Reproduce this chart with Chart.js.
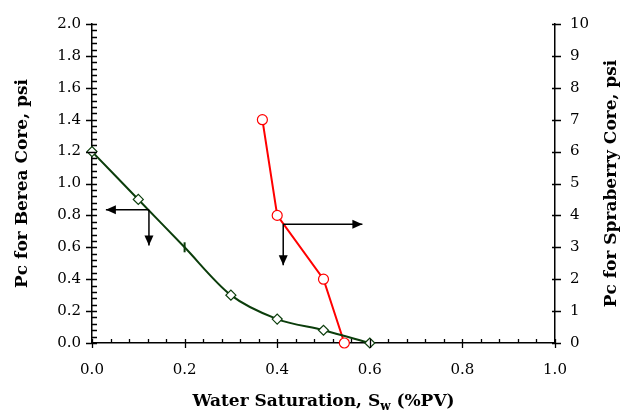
<!DOCTYPE html>
<html>
<head>
<meta charset="utf-8">
<script src="https://cdn.jsdelivr.net/npm/chart.js@4/dist/chart.umd.min.js"></script>
<style>
  html, body { margin: 0; padding: 0; background: #fff; }
  #wrap { width: 636px; height: 415px; }
</style>
</head>
<body>
<div id="wrap"><canvas id="chart"></canvas></div>
<script>
// Berea core (left axis)
const bereaSw = [0.0, 0.1, 0.2, 0.3, 0.4, 0.5, 0.6];
const bereaPc = [1.2, 0.9, 0.6, 0.3, 0.15, 0.08, 0.0];
// Spraberry core (right axis)
const spraSw = [0.368, 0.40, 0.50, 0.545];
const spraPc = [7.0, 4.0, 2.0, 0.0];
// arrow annotations, in x / left-axis units
const arrows = [
    { from: [0.123, 0.835], to: [0.030, 0.835] },
    { from: [0.123, 0.835], to: [0.123, 0.612] },
    { from: [0.413, 0.744], to: [0.584, 0.744] },
    { from: [0.413, 0.744], to: [0.413, 0.488] }
];

const serif = '"DejaVu Serif", serif';
const green = '#0b3d0b';

function arrowHead(ctx, x1, y1, x2, y2) {
    const a = Math.atan2(y2 - y1, x2 - x1);
    const len = 10, half = 4.5;
    ctx.beginPath();
    ctx.moveTo(x2, y2);
    ctx.lineTo(x2 - len * Math.cos(a) + half * Math.sin(a), y2 - len * Math.sin(a) - half * Math.cos(a));
    ctx.lineTo(x2 - len * Math.cos(a) - half * Math.sin(a), y2 - len * Math.sin(a) + half * Math.cos(a));
    ctx.closePath();
    ctx.fill();
}

const extras = {
    id: 'extras',
    afterDraw(chart) {
        const ctx = chart.ctx;
        const xs = chart.scales.x, yl = chart.scales.y, yr = chart.scales.y2;
        ctx.save();
        ctx.strokeStyle = '#000';
        ctx.fillStyle = '#000';
        ctx.lineWidth = 1.3;

        // tick marks
        ctx.beginPath();
        for (let i = 0; i <= 50; i++) {
            const v = i * 0.04;
            const y = Math.round(yl.getPixelForValue(v)) + 0.5;
            const major = i % 5 === 0;
            ctx.moveTo(yl.right - (major ? 6 : 0), y);
            ctx.lineTo(yl.right + 5, y);
        }
        for (let i = 0; i <= 25; i++) {
            const v = i * 0.04;
            const x = Math.round(xs.getPixelForValue(v)) + 0.5;
            const major = i % 5 === 0;
            ctx.moveTo(x, xs.top + (major ? 5 : 0));
            ctx.lineTo(x, xs.top - 4);
        }
        for (let i = 0; i <= 10; i++) {
            const y = Math.round(yr.getPixelForValue(i)) + 0.5;
            ctx.moveTo(yr.left - 3, y);
            ctx.lineTo(yr.left + 6, y);
        }
        ctx.stroke();

        // arrows
        ctx.lineWidth = 1.5;
        arrows.forEach(a => {
            const x1 = xs.getPixelForValue(a.from[0]), y1 = yl.getPixelForValue(a.from[1]);
            const x2 = xs.getPixelForValue(a.to[0]), y2 = yl.getPixelForValue(a.to[1]);
            ctx.beginPath();
            ctx.moveTo(x1, y1);
            ctx.lineTo(x2, y2);
            ctx.stroke();
            arrowHead(ctx, x1, y1, x2, y2);
        });

        // axis titles
        const cy = (chart.chartArea.top + chart.chartArea.bottom) / 2;
        ctx.font = 'bold 17px ' + serif;
        ctx.textAlign = 'center';
        ctx.textBaseline = 'middle';
        [[23, 'Pc for Berea Core, psi'], [612, 'Pc for Spraberry Core, psi']].forEach(t => {
            ctx.save();
            ctx.translate(t[0], cy);
            ctx.rotate(-Math.PI / 2);
            ctx.fillText(t[1], 0, 0);
            ctx.restore();
        });

        // x title with subscript
        const parts = [['Water Saturation, S', 17, 0], ['w', 12, 4], [' (%PV)', 17, 0]];
        let total = 0;
        parts.forEach(p => { ctx.font = 'bold ' + p[1] + 'px ' + serif; total += ctx.measureText(p[0]).width; });
        let x = (chart.chartArea.left + chart.chartArea.right) / 2 - total / 2;
        ctx.textAlign = 'left';
        ctx.textBaseline = 'alphabetic';
        parts.forEach(p => {
            ctx.font = 'bold ' + p[1] + 'px ' + serif;
            ctx.fillText(p[0], x, 406 + p[2]);
            x += ctx.measureText(p[0]).width;
        });
        ctx.restore();
    }
};

new Chart(document.getElementById('chart'), {
    type: 'line',
    data: {
        datasets: [
            {
                label: 'Berea',
                data: bereaSw.map((s, i) => ({ x: s, y: bereaPc[i] })),
                yAxisID: 'y',
                borderColor: green,
                borderWidth: 2,
                backgroundColor: '#fff',
                pointBorderColor: green,
                pointBorderWidth: [1.2, 1.2, 2, 1.2, 1.2, 1.2, 1.2],
                pointStyle: ['rectRot', 'rectRot', 'line', 'rectRot', 'rectRot', 'rectRot', 'rectRot'],
                rotation: [0, 0, 90, 0, 0, 0, 0],
                pointRadius: 5,
                tension: 0.3
            },
            {
                label: 'Spraberry',
                data: spraSw.map((s, i) => ({ x: s, y: spraPc[i] })),
                yAxisID: 'y2',
                borderColor: '#ff0000',
                borderWidth: 2,
                backgroundColor: '#fff',
                pointBorderColor: '#ff0000',
                pointBorderWidth: 1.2,
                pointStyle: 'circle',
                pointRadius: 5,
                tension: 0
            }
        ]
    },
    options: {
        responsive: true,
        maintainAspectRatio: false,
        animation: false,
        clip: false,
        layout: { padding: { top: 15, left: 0, right: 0, bottom: 0 } },
        plugins: { legend: { display: false }, tooltip: { enabled: false } },
        scales: {
            x: {
                type: 'linear',
                min: 0, max: 1,
                ticks: { stepSize: 0.2, color: '#000', padding: 18, font: { family: serif, size: 15 }, callback: v => v.toFixed(1) },
                grid: { display: true, drawOnChartArea: false, drawTicks: false },
                border: { display: true, color: '#000', width: 1.5 },
                afterFit: s => { s.height = 72; }
            },
            y: {
                position: 'left',
                min: 0, max: 2,
                ticks: { stepSize: 0.2, color: '#000', padding: 11, font: { family: serif, size: 15 }, callback: v => v.toFixed(1) },
                grid: { display: true, drawOnChartArea: false, drawTicks: false },
                border: { display: true, color: '#000', width: 1.5 },
                afterFit: s => { s.width = 92; }
            },
            y2: {
                position: 'right',
                min: 0, max: 10,
                ticks: { stepSize: 1, color: '#000', padding: 15, font: { family: serif, size: 15 } },
                grid: { display: true, drawOnChartArea: false, drawTicks: false },
                border: { display: true, color: '#000', width: 1.5 },
                afterFit: s => { s.width = 81; }
            }
        }
    },
    plugins: [extras]
});
</script>
</body>
</html>
